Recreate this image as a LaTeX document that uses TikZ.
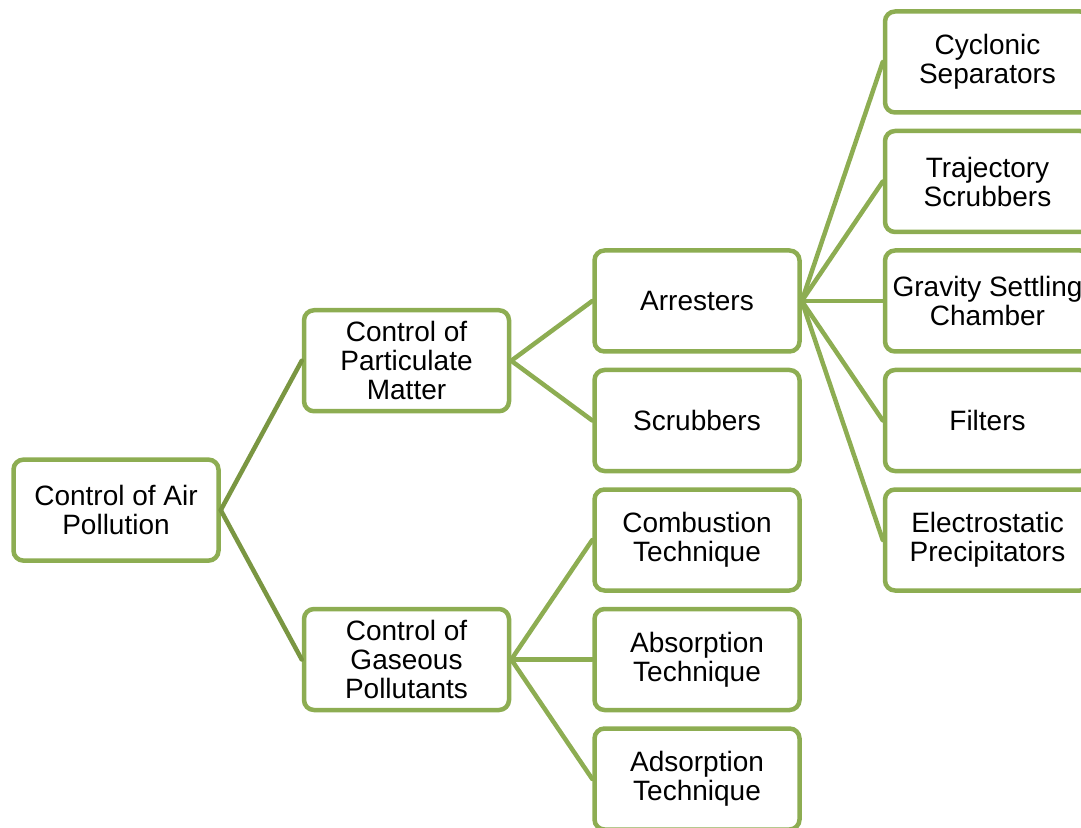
\documentclass[tikz,border=0pt]{standalone}
\usepackage{fontspec}
\setmainfont{Liberation Sans}
\usetikzlibrary{positioning,calc}
\definecolor{vert}{RGB}{141,173,82}
\definecolor{vertfonce}{RGB}{122,150,66}

\begin{document}
\begin{tikzpicture}[node distance=7pt and 40.5pt, inner sep=0pt, minimum width=102.5pt, minimum height=50.5pt]
    \tikzstyle{boite}=[rectangle, rounded corners=5pt, draw=vert, line width=2.25pt, fill=white, text=black, align=center, font=\fontsize{14pt}{14.5pt}\selectfont]
    \tikzstyle{l0}=[draw=vertfonce, line width=2.25pt, line cap=round]
    \tikzstyle{l1}=[draw=vert, line width=2.25pt, line cap=round]

    \useasboundingbox (0,0) rectangle (540.5pt,-414pt);

    \node[boite] (arr) at (348.5pt,-150.5pt) {Arresters};
    \node[boite] (scr) [below=of arr] {Scrubbers};
    \node[boite] (comb) [below=of scr] {Combustion\\Technique};
    \node[boite] (abso) [below=of comb] {Absorption\\Technique};
    \node[boite] (adso) [below=of abso] {Adsorption\\Technique};

    \node[boite] (grav) [right=of arr] {Gravity Settling\\Chamber};
    \node[boite] (traj) [above=of grav] {Trajectory\\Scrubbers};
    \node[boite] (cyc) [above=of traj] {Cyclonic\\Separators};
    \node[boite] (filt) [below=of grav] {Filters};
    \node[boite] (elec) [below=of filt] {Electrostatic\\Precipitators};

    \coordinate (m1) at ($(arr.west)!0.5!(scr.west)$);
    \node[boite] (part) [left=of m1] {Control of\\Particulate\\Matter};
    \node[boite] (gas) [left=of abso] {Control of\\Gaseous\\Pollutants};
    \coordinate (m0) at ($(part.west)!0.5!(gas.west)$);
    \node[boite] (air) [left=of m0] {Control of Air\\Pollution};

    % les liens...
    \draw[l0] (air.east) to (part.west);
    \draw[l0] (air.east) to (gas.west);

    \draw[l1] (part.east) to (arr.west);
    \draw[l1] (part.east) to (scr.west);

    \draw[l1] (gas.east) to (comb.west);
    \draw[l1] (gas.east) to (abso.west);
    \draw[l1] (gas.east) to (adso.west);

    \draw[l1] (arr.east) to (cyc.west);
    \draw[l1] (arr.east) to (traj.west);
    \draw[l1] (arr.east) to (grav.west);
    \draw[l1] (arr.east) to (filt.west);
    \draw[l1] (arr.east) to (elec.west);
\end{tikzpicture}
\end{document}
